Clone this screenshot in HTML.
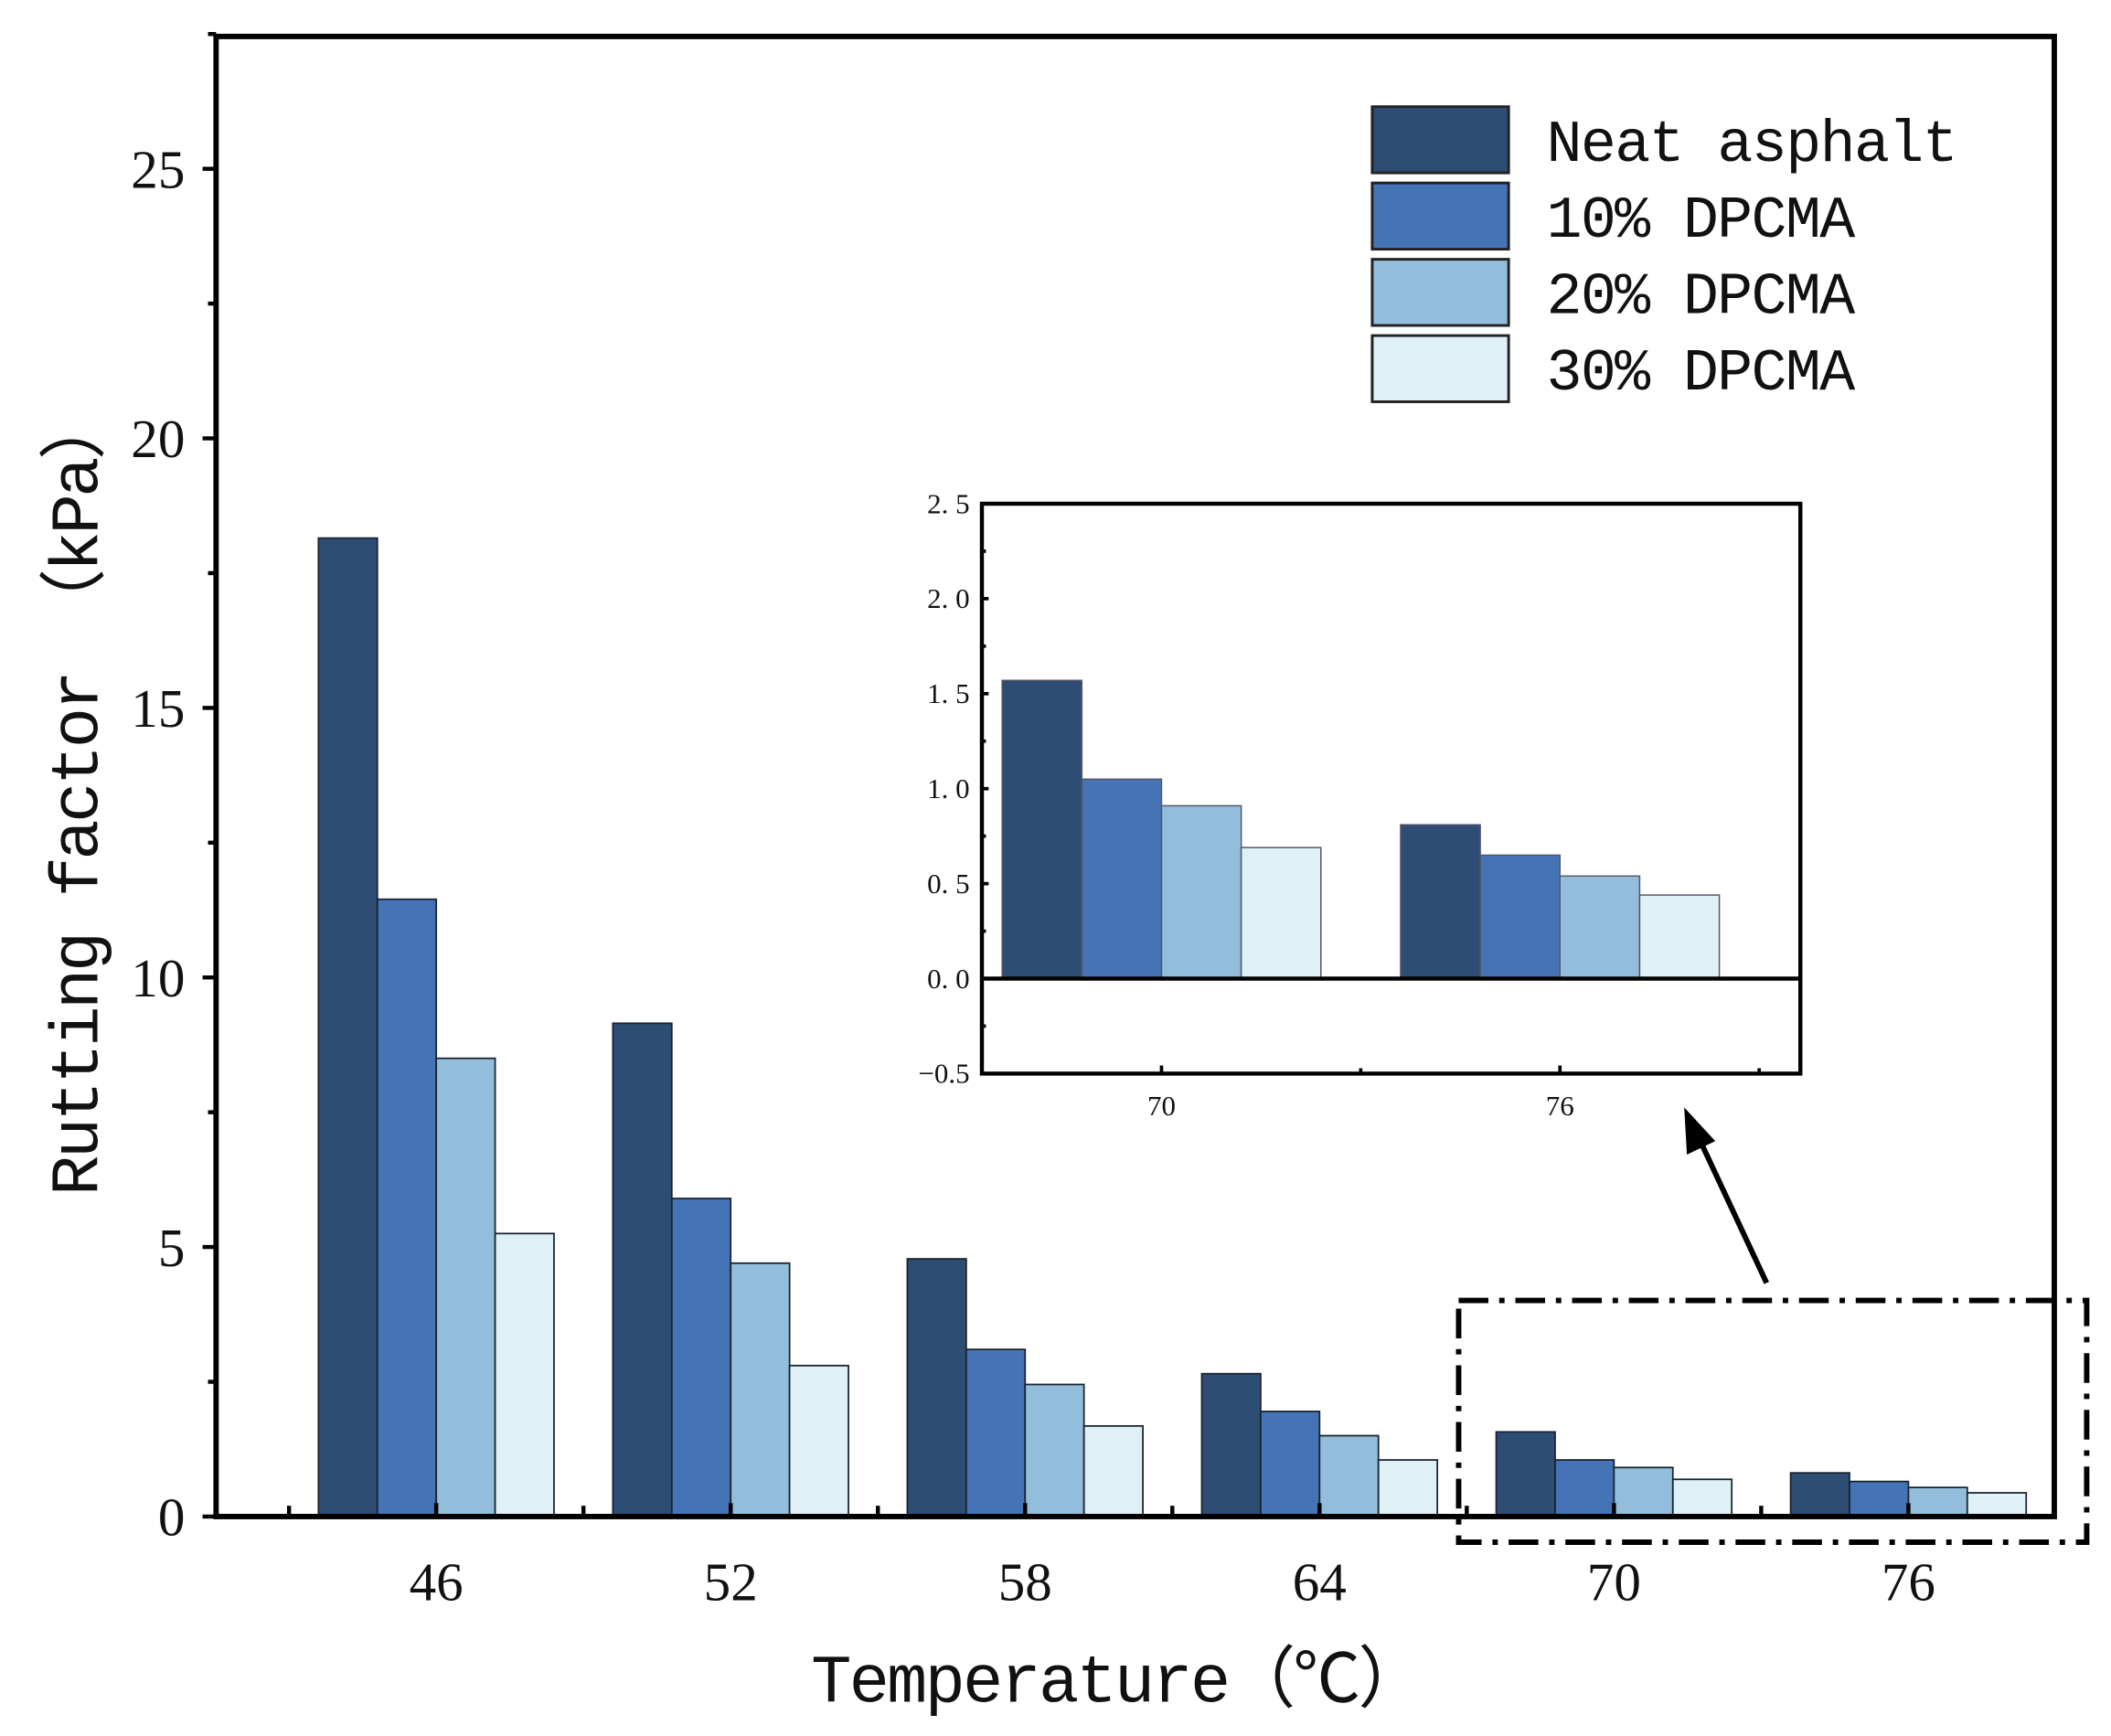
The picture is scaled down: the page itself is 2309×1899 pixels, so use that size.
<!DOCTYPE html>
<html><head><meta charset="utf-8"><style>
html,body{margin:0;padding:0;background:#fff;}
svg{display:block;}
text{fill:#111;}
</style></head><body>
<svg id="chart" width="2309" height="1899" viewBox="0 0 1563 1285.5" preserveAspectRatio="none" xmlns="http://www.w3.org/2000/svg">
<g id="main"></g>
<g id="inset"></g>
<g id="legend"></g>
</svg>
<script>
const categories = [46, 52, 58, 64, 70, 76];
const seriesNames = ["Neat asphalt", "10% DPCMA", "20% DPCMA", "30% DPCMA"];
const neat = [18.15, 9.15, 4.78, 2.65, 1.57, 0.81];
const dp10 = [11.45, 5.9, 3.1, 1.95, 1.05, 0.65];
const dp20 = [8.5, 4.7, 2.45, 1.5, 0.91, 0.54];
const dp30 = [5.25, 2.8, 1.68, 1.05, 0.69, 0.44];
const yTicks = [0, 5, 10, 15, 20, 25];
const insetCategories = [70, 76];
const insetYTicks = [-0.5, 0.0, 0.5, 1.0, 1.5, 2.0, 2.5];
const colors = ["#2d4d75", "#4474b5", "#92bedc", "#dff0f7"];
const series = [neat, dp10, dp20, dp30];
const NS = "http://www.w3.org/2000/svg";
function mk(tag, attrs, parent, txt) {
  const e = document.createElementNS(NS, tag);
  for (const k in attrs) e.setAttribute(k, attrs[k]);
  if (txt !== undefined) e.textContent = txt;
  parent.appendChild(e); return e;
}
// main axes
const mainG = document.getElementById('main');
const L = 160, R = 1521, T = 27, B = 1123;
const xS = v => 323 + (v - 46) * 218 / 6;
const yS = v => B - v * (B - 125) / 25;
const bw = 1.2 * 218 / 6;
series.forEach((s, si) => {
  s.forEach((v, ci) => {
    const x0 = xS(categories[ci]) - 2 * bw + si * bw;
    const r = mk('rect', {x: x0, y: yS(v), width: bw, height: yS(0) - yS(v), fill: colors[si], stroke: '#1a2330', 'stroke-width': 1.2}, mainG);
    
    
  });
});
const frame = mk('rect', {x: L, y: T, width: R - L, height: B - T, fill: 'none', stroke: '#000', 'stroke-width': 4}, mainG);


yTicks.forEach(v => {
  mk('line', {x1: L - 10, x2: L, y1: yS(v), y2: yS(v), stroke: '#000', 'stroke-width': 3}, mainG);
  mk('line', {x1: L - 6, x2: L, y1: yS(v + 2.5), y2: yS(v + 2.5), stroke: '#000', 'stroke-width': 3}, mainG);
  const t = mk('text', {x: 137, y: yS(v) + 14, 'text-anchor': 'end', 'font-family': 'Liberation Serif, serif', 'font-size': 40}, mainG, String(v));
  
  
});
categories.forEach(c => {
  mk('line', {x1: xS(c), x2: xS(c), y1: B - 10, y2: B, stroke: '#000', 'stroke-width': 3}, mainG);
  mk('line', {x1: xS(c - 3), x2: xS(c - 3), y1: B - 8, y2: B, stroke: '#000', 'stroke-width': 3}, mainG);
  const t = mk('text', {x: xS(c), y: 1185, 'text-anchor': 'middle', 'font-family': 'Liberation Serif, serif', 'font-size': 40}, mainG, String(c));
  
  
});
const xt = mk('text', {x: 828, y: 1260, 'text-anchor': 'middle', 'font-family': 'Liberation Mono, Noto Sans CJK SC, monospace', 'font-size': 50, textLength: 455}, mainG, 'Temperature（℃）');


const yt = mk('text', {x: 0, y: 0, transform: 'translate(72,588) rotate(-90)', 'text-anchor': 'middle', 'font-family': 'Liberation Mono, Noto Sans CJK SC, monospace', 'font-size': 50, textLength: 595}, mainG, 'Rutting factor （kPa）');


// dashed highlight box + arrow
const hb = mk('rect', {x: 1080, y: 963, width: 465, height: 179, fill: 'none', stroke: '#000', 'stroke-width': 4, 'stroke-dasharray': '22 8 4 8'}, mainG);


const ar = mk('line', {x1: 1308, y1: 950, x2: 1258, y2: 843, stroke: '#000', 'stroke-width': 4}, mainG);


mk('polygon', {points: '1247,820 1249,855 1270,845'}, mainG);
// inset
const inG = document.getElementById('inset');
const iL = 727, iR = 1333, iT = 373, iB = 795;
const ixS = v => 860 + (v - 70) * 295 / 6;
const iyS = v => iB - (v + 0.5) * (iB - iT) / 3;
const ibw = 1.2 * 295 / 6;
mk('rect', {x: iL, y: iT, width: iR - iL, height: iB - iT, fill: '#fff'}, inG);
series.forEach((s, si) => {
  insetCategories.forEach((c, k) => {
    const v = s[categories.indexOf(c)];
    const x0 = ixS(c) - 2 * ibw + si * ibw;
    const r = mk('rect', {x: x0, y: iyS(v), width: ibw, height: iyS(0) - iyS(v), fill: colors[si], stroke: '#556', 'stroke-width': 1}, inG);
    
    
  });
});
mk('line', {x1: iL, x2: iR, y1: iyS(0), y2: iyS(0), stroke: '#000', 'stroke-width': 3}, inG);
mk('rect', {x: iL, y: iT, width: iR - iL, height: iB - iT, fill: 'none', stroke: '#000', 'stroke-width': 3}, inG);
insetYTicks.forEach(v => {
  mk('line', {x1: iL, x2: iL + 5, y1: iyS(v), y2: iyS(v), stroke: '#000', 'stroke-width': 2.5}, inG);
  if (v < 2.5) mk('line', {x1: iL, x2: iL + 3, y1: iyS(v + 0.25), y2: iyS(v + 0.25), stroke: '#000', 'stroke-width': 2.5}, inG);
  const lbl = v < 0 ? '−0.5' : v.toFixed(1).replace('.', '. ');
  const t = mk('text', {x: 718, y: iyS(v) + 7, 'text-anchor': 'end', 'font-family': 'Liberation Serif, serif', 'font-size': 21}, inG, lbl);
  
  
});
insetCategories.forEach(c => {
  mk('line', {x1: ixS(c), x2: ixS(c), y1: iB - 6, y2: iB, stroke: '#000', 'stroke-width': 2.5}, inG);
  mk('line', {x1: ixS(c + 3), x2: ixS(c + 3), y1: iB - 4, y2: iB, stroke: '#000', 'stroke-width': 2.5}, inG);
  const t = mk('text', {x: ixS(c), y: 826, 'text-anchor': 'middle', 'font-family': 'Liberation Serif, serif', 'font-size': 21}, inG, String(c));
  
  
});
// legend
const lg = document.getElementById('legend');
seriesNames.forEach((n, i) => {
  const y = 79 + i * 56.5;
  const sw = mk('rect', {x: 1016, y: y, width: 101, height: 49, fill: colors[i], stroke: '#222', 'stroke-width': 2}, lg);
  
  
  const t = mk('text', {x: 1145, y: y + 40, 'font-family': 'Liberation Mono, monospace', 'font-size': 44, textLength: n.length * 25.4}, lg, n);
  
  
});
</script>
</body></html>
